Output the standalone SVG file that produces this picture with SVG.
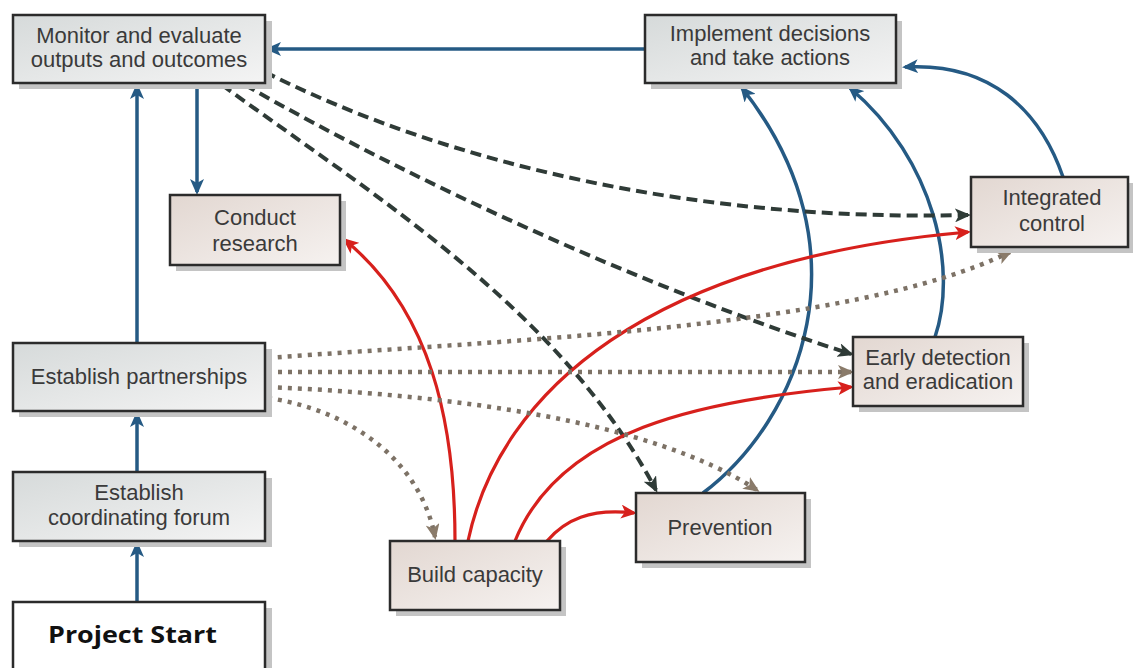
<svg xmlns="http://www.w3.org/2000/svg" width="1133" height="668" viewBox="0 0 1133 668">
<defs>
<linearGradient id="gGray" x1="0" y1="0" x2="1" y2="1">
<stop offset="0" stop-color="#d6dada"/><stop offset="1" stop-color="#f4f4f4"/>
</linearGradient>
<linearGradient id="gPink" x1="0" y1="0" x2="1" y2="1">
<stop offset="0" stop-color="#e2d7d1"/><stop offset="1" stop-color="#f6f2f0"/>
</linearGradient>
<marker id="aBlue" markerUnits="userSpaceOnUse" markerWidth="16" markerHeight="14" refX="13" refY="7" orient="auto"><path d="M0,0 L16,7 L0,14 L4,7 z" fill="#255a84"/></marker>
<marker id="aRed" markerUnits="userSpaceOnUse" markerWidth="16" markerHeight="14" refX="13" refY="7" orient="auto"><path d="M0,0 L16,7 L0,14 L4,7 z" fill="#d7201c"/></marker>
<marker id="aDark" markerUnits="userSpaceOnUse" markerWidth="16" markerHeight="14" refX="13" refY="7" orient="auto"><path d="M0,0 L16,7 L0,14 L4,7 z" fill="#2f3b37"/></marker>
<marker id="aTan" markerUnits="userSpaceOnUse" markerWidth="16" markerHeight="14" refX="13" refY="7" orient="auto"><path d="M0,0 L16,7 L0,14 L4,7 z" fill="#8a7b6a"/></marker>
</defs>
<style>
.box{stroke:#2b2b2b;stroke-width:2.5}
.gray{fill:url(#gGray)}
.pink{fill:url(#gPink)}
.sh{fill:#c4c4c4}
.t{font-family:"Liberation Sans",Arial,sans-serif;font-size:22px;fill:#3a3a3a;text-anchor:middle}
.blue{fill:none;stroke:#255a84;stroke-width:3.5;marker-end:url(#aBlue)}
.red{fill:none;stroke:#d7201c;stroke-width:3.2;marker-end:url(#aRed)}
.dash{fill:none;stroke:#2f3b37;stroke-width:4;stroke-dasharray:11 6;marker-end:url(#aDark)}
.dot{fill:none;stroke:#7d7266;stroke-width:4.5;stroke-dasharray:4 6;marker-end:url(#aTan)}
</style>
<rect width="1133" height="668" fill="#ffffff"/>

<g id="connectors">
<path class="blue" d="M645,49 L268,49"/>
<path class="blue" d="M197,83 L197,192"/>
<path class="blue" d="M137,343 L137,86"/>
<path class="blue" d="M137,472 L137,414"/>
<path class="blue" d="M137,602 L137,544"/>
<path class="blue" d="M703,493 C800,420 870,250 742,88"/>
<path class="blue" d="M935,337 C958,270 935,160 850,88"/>
<path class="blue" d="M1063,177 C1040,110 990,62 905,67"/>

<path class="dash" d="M265,72 C450,165 700,222 968,215"/>
<path class="dash" d="M245,85 C420,185 650,290 851,354"/>
<path class="dash" d="M222,85 C380,200 560,310 656,490"/>

<path class="red" d="M455,541 C455,420 430,310 345,240"/>
<path class="red" d="M468,541 C500,390 650,260 968,232"/>
<path class="red" d="M515,541 C560,430 700,400 851,387"/>
<path class="red" d="M547,541 C565,520 590,508 634,513"/>

<path class="dot" d="M268,358 C500,340 850,330 1010,252"/>
<path class="dot" d="M268,372 L851,372"/>
<path class="dot" d="M268,387 C450,395 650,420 757,490"/>
<path class="dot" d="M268,398 C350,410 420,460 435,537"/>
</g>

<g id="monitor">
<rect class="sh" x="19" y="21" width="253" height="68"/>
<rect class="box gray" x="13" y="15" width="252" height="68"/>
<text class="t" x="139" y="43">Monitor and evaluate</text>
<text class="t" x="139" y="67">outputs and outcomes</text>
</g>

<g id="implement">
<rect class="sh" x="651" y="21" width="251" height="68"/>
<rect class="box gray" x="645" y="15" width="251" height="68"/>
<text class="t" x="770" y="41">Implement decisions</text>
<text class="t" x="770" y="65">and take actions</text>
</g>

<g id="integrated">
<rect class="sh" x="977" y="183" width="156" height="70"/>
<rect class="box pink" x="971" y="177" width="157" height="70"/>
<text class="t" x="1052" y="205">Integrated</text>
<text class="t" x="1052" y="231">control</text>
</g>

<g id="early">
<rect class="sh" x="859" y="343" width="170" height="69"/>
<rect class="box pink" x="853" y="337" width="170" height="69"/>
<text class="t" x="938" y="365">Early detection</text>
<text class="t" x="938" y="389">and eradication</text>
</g>

<g id="research">
<rect class="sh" x="176" y="201" width="170" height="70"/>
<rect class="box pink" x="170" y="195" width="170" height="70"/>
<text class="t" x="255" y="225">Conduct</text>
<text class="t" x="255" y="251">research</text>
</g>

<g id="partnerships">
<rect class="sh" x="19" y="349" width="253" height="68"/>
<rect class="box gray" x="13" y="343" width="252" height="68"/>
<text class="t" x="139" y="384">Establish partnerships</text>
</g>

<g id="forum">
<rect class="sh" x="19" y="478" width="253" height="69"/>
<rect class="box gray" x="13" y="472" width="252" height="69"/>
<text class="t" x="139" y="500">Establish</text>
<text class="t" x="139" y="525">coordinating forum</text>
</g>

<g id="start">
<rect class="sh" x="19" y="608" width="253" height="70"/>
<rect class="box" x="13" y="602" width="252" height="72" fill="#ffffff"/>
<text x="48" y="643" font-family="'Open Sans','DejaVu Sans',sans-serif" font-weight="700" font-size="24" fill="#111111" textLength="169" lengthAdjust="spacingAndGlyphs">Project Start</text>
</g>

<g id="build">
<rect class="sh" x="396" y="547" width="170" height="69"/>
<rect class="box pink" x="390" y="541" width="170" height="69"/>
<text class="t" x="475" y="582">Build capacity</text>
</g>

<g id="prevention">
<rect class="sh" x="642" y="499" width="169" height="69"/>
<rect class="box pink" x="636" y="493" width="169" height="69"/>
<text class="t" x="720" y="535">Prevention</text>
</g>
</svg>
